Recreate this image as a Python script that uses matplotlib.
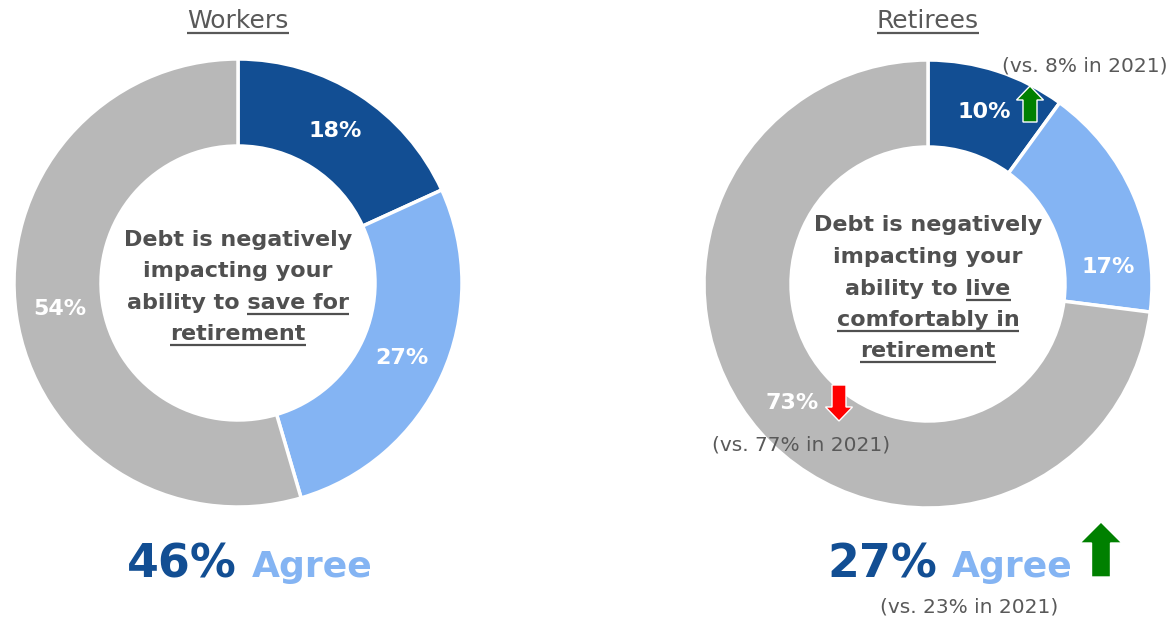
import matplotlib
matplotlib.use("Agg")
import numpy as np
import matplotlib.pyplot as plt
from matplotlib.patches import Polygon

plt.rcParams['font.family'] = ['DejaVu Sans']

# survey shares, clockwise from 12 o'clock
workers = [18, 27, 54]
retirees = [10, 17, 73]
retirees_2021 = [8, None, 77]
agree_workers = 46
agree_retirees = 27
agree_retirees_2021 = 23

NAVY = '#124e93'
LIGHT = '#84b4f3'
GREY = '#b8b8b8'
TEXT = '#505050'
colors = [NAVY, LIGHT, GREY]

W, H = 1175, 623
fig = plt.figure(figsize=(W / 100, H / 100), dpi=100)

R_OUT, R_IN = 224, 137


def donut(cx, cy, values, label_shift):
    ax = fig.add_axes([(cx - R_OUT) / W, (H - cy - R_OUT) / H,
                       2 * R_OUT / W, 2 * R_OUT / H])
    ax.pie(values, colors=colors, startangle=90, counterclock=False,
           wedgeprops=dict(width=1 - R_IN / R_OUT, edgecolor='white', linewidth=2.5))
    ax.set_xlim(-1, 1)
    ax.set_ylim(-1, 1)
    ax.axis('off')
    # value labels in the middle of the ring
    total = sum(values)
    start = 0
    r = (1 + R_IN / R_OUT) / 2
    for v, shift in zip(values, label_shift):
        mid = (start + v / 2) / total * 360 + shift
        a = np.radians(90 - mid)
        ax.text(r * np.cos(a), r * np.sin(a), f'{v}%', ha='center', va='center',
                color='white', fontsize=16, fontweight='bold')
        start += v
    return ax


donut(238, 283, workers, [0, 0, 0])
donut(928, 284, retirees, [0, 18, 0])

# overlay in pixel units for text and arrows
ov = fig.add_axes([0, 0, 1, 1])
ov.set_xlim(0, W)
ov.set_ylim(H, 0)
ov.axis('off')

fig.canvas.draw()
renderer = fig.canvas.get_renderer()


def width_px(s, **kw):
    t = ov.text(0, 0, s, **kw)
    w = t.get_window_extent(renderer).width
    t.remove()
    return w


def line(x, y, s, under='', size=16, weight='bold', color=TEXT):
    kw = dict(fontsize=size, fontweight=weight, color=color)
    ov.text(x, y, s, ha='center', va='baseline', **kw)
    if under:
        full = width_px(s, **kw)
        part = width_px(under, **kw)
        right = x + full / 2
        ov.plot([right - part, right], [y + 4.5, y + 4.5], color=color, lw=1.6,
                solid_capstyle='butt')


def arrow(x, y0, y1, shaft, head, head_len, color):
    # y0 = tail, y1 = tip (pixel rows)
    d = np.sign(y1 - y0)
    yb = y1 - d * head_len
    pts = [(x - shaft / 2, y0), (x - shaft / 2, yb), (x - head / 2, yb), (x, y1),
           (x + head / 2, yb), (x + shaft / 2, yb), (x + shaft / 2, y0)]
    ov.add_patch(Polygon(pts, closed=True, facecolor=color, edgecolor='white', lw=1))


# panel titles
line(238, 28, 'Workers', under='Workers', size=18, weight='normal', color='#595959')
line(928, 28, 'Retirees', under='Retirees', size=18, weight='normal', color='#595959')

# centre questions
for y, s, u in [(246, 'Debt is negatively', ''), (277, 'impacting your', ''),
                (309, 'ability to save for', 'save for'), (340, 'retirement', 'retirement')]:
    line(238, y, s, under=u)
for y, s, u in [(231, 'Debt is negatively', ''), (263, 'impacting your', ''),
                (295, 'ability to live', 'live'), (326, 'comfortably in', 'comfortably in'),
                (357, 'retirement', 'retirement')]:
    line(928, y, s, under=u)

# year-on-year notes
ov.text(1167, 66, f'(vs. {retirees_2021[0]}% in 2021)', ha='right', va='center',
        fontsize=14.5, color='#595959')
ov.text(890, 445, f'(vs. {retirees_2021[2]}% in 2021)', ha='right', va='center',
        fontsize=14.5, color='#595959')
ov.text(969, 607, f'(vs. {agree_retirees_2021}% in 2021)', ha='center', va='center',
        fontsize=14.5, color='#595959')

arrow(1030, 122, 86, 14, 27, 14, '#008000')
arrow(839, 385, 421, 14, 27, 14, '#ff0000')
arrow(1101, 577, 522, 19, 42, 21, '#008000')

# agree totals
ov.text(127, 577, f'{agree_workers}%', ha='left', va='baseline', fontsize=33,
        fontweight='bold', color=NAVY)
ov.text(252, 577, 'Agree', ha='left', va='baseline', fontsize=26,
        fontweight='bold', color=LIGHT)
ov.text(827, 577, f'{agree_retirees}%', ha='left', va='baseline', fontsize=33,
        fontweight='bold', color=NAVY)
ov.text(952, 577, 'Agree', ha='left', va='baseline', fontsize=26,
        fontweight='bold', color=LIGHT)

fig.savefig('out.png', dpi=100)
